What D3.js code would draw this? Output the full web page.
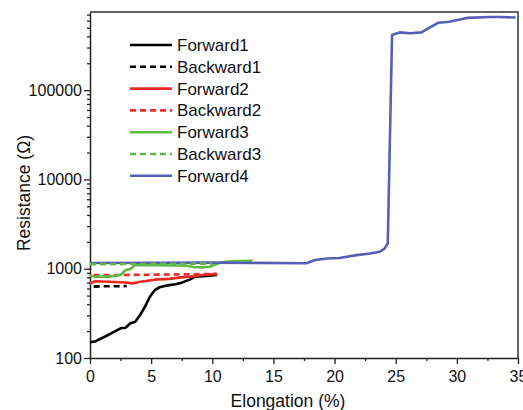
<!DOCTYPE html>
<html>
<head>
<meta charset="utf-8">
<script src="https://cdn.jsdelivr.net/npm/d3@7"></script>
<style>
  body { margin: 0; background: #fff; }
  svg text { font-family: "Liberation Sans", Arial, sans-serif; fill: #111; }
</style>
</head>
<body>
<svg id="chart" width="523" height="410"></svg>
<script>
// values
const forward1X = [0, 0.4, 1.2, 2.0, 2.5, 2.9, 3.3, 3.7, 4.1, 4.5, 4.9, 5.3, 5.7, 6.1, 6.5, 7.0, 7.4, 8.2, 8.6, 9.5, 10.4];
const forward1Y = [150, 153, 173, 197, 215, 218, 245, 255, 303, 376, 485, 577, 620, 640, 655, 670, 690, 760, 815, 830, 850];
const backward1X = [0.3, 1.0, 2.0, 3.0];
const backward1Y = [630, 635, 635, 640];
const forward2X = [0, 0.4, 1.6, 2.9, 3.5, 4.1, 4.6, 5.5, 6.5, 7.4, 8.2, 9.0, 10.1, 10.4];
const forward2Y = [680, 725, 715, 700, 685, 715, 730, 760, 770, 800, 815, 845, 870, 875];
const backward2X = [0.3, 2, 4, 6, 8, 10.3];
const backward2Y = [850, 850, 855, 860, 865, 875];
const forward3X = [0, 0.4, 1.6, 2.5, 2.9, 3.3, 3.7, 5, 7.4, 7.9, 8.5, 9.0, 9.8, 10.5, 11.2, 13.3];
const forward3Y = [840, 815, 815, 850, 965, 990, 1100, 1095, 1085, 1080, 1045, 1035, 1050, 1150, 1200, 1230];
const backward3X = [0, 2, 4, 6, 8, 10];
const backward3Y = [1125, 1125, 1130, 1135, 1135, 1140];
const forward4X = [0, 5, 10, 17.7, 18.4, 19.4, 20.4, 21.8, 22.9, 23.7, 24.1, 24.35, 24.7, 25.3, 26.2, 27.1, 27.8, 28.5, 29.4, 30.9, 32.7, 33.5, 34.8];
const forward4Y = [1160, 1165, 1170, 1150, 1250, 1300, 1320, 1420, 1480, 1550, 1690, 1930, 414000, 443000, 433000, 443000, 503000, 569000, 583000, 645000, 660000, 660000, 650000];

const xTicks = [0, 5, 10, 15, 20, 25, 30, 35];
const yTicks = [100, 1000, 10000, 100000];

const series = [
  { name: "Forward1", xs: forward1X, ys: forward1Y, color: "#000000", dash: null },
  { name: "Backward1", xs: backward1X, ys: backward1Y, color: "#000000", dash: "6,4" },
  { name: "Forward2", xs: forward2X, ys: forward2Y, color: "#ee2a24", dash: null },
  { name: "Backward2", xs: backward2X, ys: backward2Y, color: "#ee2a24", dash: "6,4" },
  { name: "Forward3", xs: forward3X, ys: forward3Y, color: "#5fba46", dash: null },
  { name: "Backward3", xs: backward3X, ys: backward3Y, color: "#5fba46", dash: "6,4" },
  { name: "Forward4", xs: forward4X, ys: forward4Y, color: "#5560b3", dash: null }
];

const margin = { top: 12, left: 90, right: 5, bottom: 52 };
const width = 523 - margin.left - margin.right;
const height = 410 - margin.top - margin.bottom;

const svg = d3.select("#chart");
const g = svg.append("g").attr("transform", `translate(${margin.left},${margin.top})`);

const x = d3.scaleLinear().domain([0, 35]).range([0, width]);
const y = d3.scaleLog().domain([100, 750000]).range([height, 0]);

// minor ticks
const xMinor = d3.range(2.5, 35, 5);
const yMinor = [];
[100, 1000, 10000, 100000].forEach(d => {
  for (let k = 2; k <= 9; k++) if (d * k <= 750000) yMinor.push(d * k);
});

g.append("g")
  .attr("transform", `translate(0,${height})`)
  .call(d3.axisBottom(x).tickValues(xMinor).tickSize(3).tickFormat(""))
  .call(a => a.select(".domain").remove());
g.append("g")
  .call(d3.axisLeft(y).tickValues(yMinor).tickSize(3).tickFormat(""))
  .call(a => a.select(".domain").remove());

const xAxis = g.append("g")
  .attr("transform", `translate(0,${height})`)
  .call(d3.axisBottom(x).tickValues(xTicks).tickSize(6).tickSizeOuter(0).tickPadding(7));
const yAxis = g.append("g")
  .call(d3.axisLeft(y).tickValues(yTicks).tickFormat(d3.format("d")).tickSize(6).tickSizeOuter(0).tickPadding(2));

[xAxis, yAxis].forEach(a => {
  a.selectAll("text").style("font-size", "16px").attr("fill", "#111");
  a.select(".domain").attr("stroke", "#222").attr("stroke-width", 1.5);
});
g.selectAll(".tick line").attr("stroke", "#222").attr("stroke-width", 1.3);

// frame top / right
g.append("path")
  .attr("d", `M0,0H${width}V${height}`)
  .attr("fill", "none")
  .attr("stroke", "#333")
  .attr("stroke-width", 1.5);

const line = d3.line()
  .x(d => x(d[0]))
  .y(d => y(d[1]));

g.append("defs").append("clipPath").attr("id", "clip")
  .append("rect").attr("width", width).attr("height", height);

const plot = g.append("g").attr("clip-path", "url(#clip)");
const drawOrder = [0, 1, 2, 3, 4, 6, 5];
drawOrder.forEach(i => {
  const s = series[i];
  plot.append("path")
    .datum(s.xs.map((v, j) => [v, s.ys[j]]))
    .attr("fill", "none")
    .attr("stroke", s.color)
    .attr("stroke-width", 2.6)
    .attr("stroke-linejoin", "round")
    .attr("stroke-dasharray", s.dash)
    .attr("d", line);
});

// legend
const legend = svg.append("g").attr("transform", "translate(130,45)");
series.forEach((s, i) => {
  const row = legend.append("g").attr("transform", `translate(0,${i * 21.8})`);
  row.append("line")
    .attr("x1", 0).attr("x2", 42)
    .attr("stroke", s.color)
    .attr("stroke-width", 2.6)
    .attr("stroke-dasharray", s.dash);
  row.append("text")
    .attr("x", 47)
    .attr("dy", "0.35em")
    .style("font-size", "17px")
    .text(s.name);
});

// axis titles
svg.append("text")
  .attr("x", 288)
  .attr("y", 407)
  .attr("text-anchor", "middle")
  .style("font-size", "17.5px")
  .text("Elongation (%)");

svg.append("text")
  .attr("transform", "translate(30,193) rotate(-90)")
  .attr("text-anchor", "middle")
  .style("font-size", "17.5px")
  .text("Resistance (Ω)");
</script>
</body>
</html>
